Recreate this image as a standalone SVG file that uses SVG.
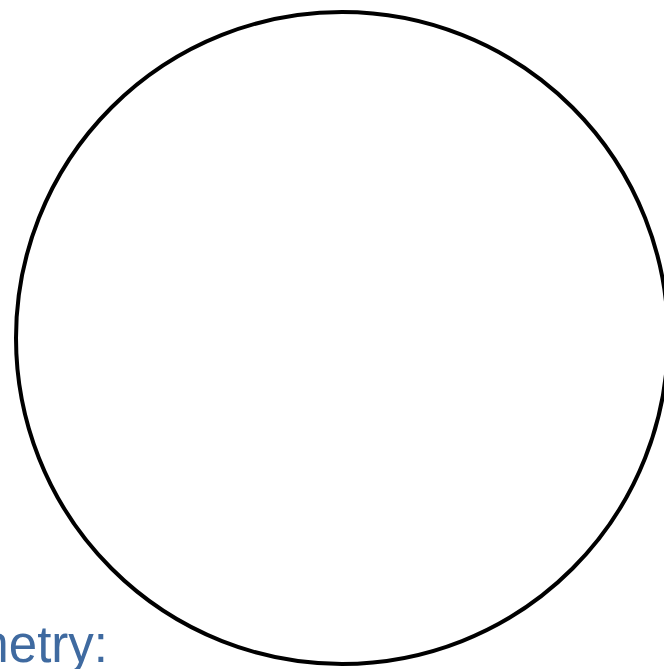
<svg xmlns="http://www.w3.org/2000/svg" width="664" height="669" viewBox="0 0 664 669">
<style>
.lbl{font-family:"Liberation Sans",Arial,sans-serif;font-size:51px;fill:#3f6aa0}
</style>
<rect width="664" height="669" fill="#ffffff"/>
<g id="circle">
<circle cx="342" cy="338" r="326" fill="#ffffff" stroke="#000000" stroke-width="4"/>
</g>
<g id="label">
<text class="lbl" x="108" y="662" text-anchor="end">Geometry:</text>
</g>
</svg>
